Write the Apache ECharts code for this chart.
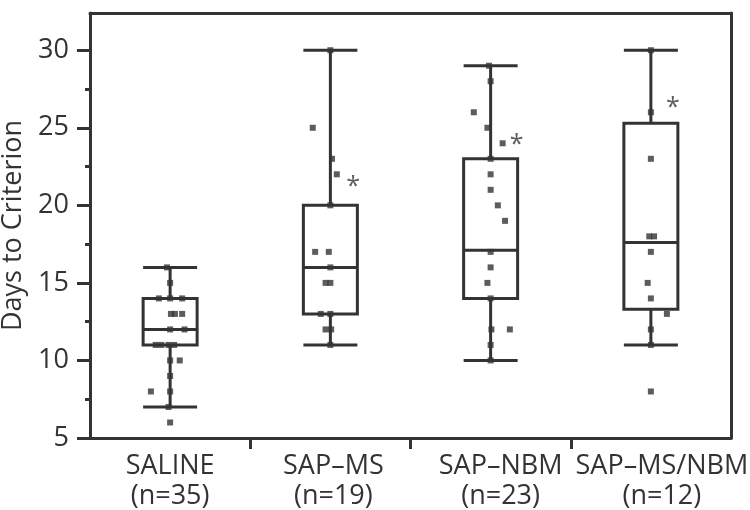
<!DOCTYPE html>
<html>
<head>
<meta charset="utf-8">
<script src="https://cdn.jsdelivr.net/npm/echarts@6/dist/echarts.min.js"></script>
<style>html,body{margin:0;padding:0;background:#fff}#c{width:750px;height:510px}</style>
</head>
<body>
<div id="c"></div>
<script>
var categories = ['SALINE\n(n=35)', 'SAP\u2013MS\n(n=19)', 'SAP\u2013NBM\n(n=23)', 'SAP\u2013MS/NBM\n(n=12)'];
var yTicks = [5, 10, 15, 20, 25, 30];
var yMinorTicks = [7.5, 12.5, 17.5, 22.5, 27.5];
// [min, Q1, median, Q3, max]
var boxSaline = [7, 11, 12, 14, 16];
var boxMS = [11, 13, 16, 20, 30];
var boxNBM = [10, 14, 17.1, 23, 29];
var boxBoth = [11, 13.3, 17.6, 25.3, 30];
// individual points: values and horizontal jitter (fraction of category band)
var ptsSaline = [16, 15, 14, 14, 14, 13, 13, 13, 12, 12, 11, 11, 11, 11, 10, 10, 9, 8, 8, 7, 6];
var jitSaline = [-0.02, 0, -0.07, 0, 0.075, 0.005, 0.03, 0.075, 0, 0.09, -0.09, -0.055, -0.01, 0.025, 0, 0.06, 0, -0.12, 0, -0.01, 0];
var ptsMS = [30, 25, 23, 22, 20, 17, 17, 16, 15, 15, 13, 13, 12, 12, 11];
var jitMS = [0, -0.11, 0.01, 0.04, 0, -0.095, -0.01, 0, -0.03, 0, -0.06, 0, -0.03, 0.005, 0];
var ptsNBM = [29, 28, 26, 25, 24, 23, 22, 21, 20, 19, 17, 16, 15, 14, 12, 12, 11, 10];
var jitNBM = [-0.01, 0, -0.105, -0.02, 0.075, 0, 0, 0, 0.045, 0.09, 0, 0, -0.02, 0, 0.005, 0.12, 0, 0];
var ptsBoth = [30, 26, 23, 18, 18, 17, 15, 14, 13, 12, 11, 8];
var jitBoth = [0, 0, 0, -0.01, 0.02, 0, -0.02, 0, 0.1, 0, 0, 0];
// significance asterisks: group index, jitter, value
var starGroups = [1, 2, 3];
var starJitter = [0.155, 0.175, 0.15];
var starValues = [21.6, 24.3, 26.7];

var INK = '#333333';
var FONT = 'Open Sans';
var labelShift = [0, 6, 20, 22];

var allPts = [ptsSaline, ptsMS, ptsNBM, ptsBoth];
var allJit = [jitSaline, jitMS, jitNBM, jitBoth];
var scatterData = [];
allPts.forEach(function (arr, g) {
  arr.forEach(function (v, k) { scatterData.push([g + 0.5 + allJit[g][k], v]); });
});
var starData = starGroups.map(function (g, k) { return [g + 0.5 + starJitter[k], starValues[k]]; });

var rich = {};
labelShift.forEach(function (s, i) {
  rich['c' + i] = {color: INK, fontFamily: FONT, fontSize: 27, lineHeight: 30, padding: [0, 0, 0, s]};
});

var chart = echarts.init(document.getElementById('c'), null, {renderer: 'canvas'});
chart.setOption({
  animation: false,
  backgroundColor: '#ffffff',
  grid: {left: 90, right: 19, top: 13, bottom: 72, containLabel: false, outerBoundsMode: 'none'},
  xAxis: [
    {
      type: 'category', position: 'bottom', data: categories,
      axisLine: {show: true, lineStyle: {color: INK, width: 3}},
      axisTick: {show: false},
      axisLabel: {
        interval: 0, margin: 13, rich: rich,
        formatter: function (v, i) {
          return v.split('\n').map(function (line) { return '{c' + i + '|' + line + '}'; }).join('\n');
        }
      }
    },
    {
      type: 'value', position: 'bottom', min: 0, max: 4, interval: 1,
      axisLine: {show: false},
      axisTick: {show: true, customValues: [1, 2, 3], length: 11, lineStyle: {color: INK, width: 3}},
      axisLabel: {show: false}, splitLine: {show: false}
    },
    {
      type: 'category', position: 'top', data: categories,
      axisLine: {show: true, lineStyle: {color: INK, width: 3}},
      axisTick: {show: false}, axisLabel: {show: false}
    }
  ],
  yAxis: [
    {
      type: 'value', position: 'left', min: 5, max: 32.4,
      name: 'Days to Criterion', nameLocation: 'middle', nameGap: 62, nameRotate: 90,
      nameTextStyle: {color: INK, fontFamily: FONT, fontSize: 27},
      axisLine: {show: true, lineStyle: {color: INK, width: 3}},
      axisTick: {show: true, customValues: yTicks, length: 13, lineStyle: {color: INK, width: 3}},
      axisLabel: {customValues: yTicks, color: INK, fontFamily: FONT, fontSize: 27, margin: 21},
      splitLine: {show: false}
    },
    {
      type: 'value', position: 'left', min: 5, max: 32.4,
      axisLine: {show: false},
      axisTick: {show: true, customValues: yMinorTicks, length: 5, lineStyle: {color: INK, width: 3}},
      axisLabel: {show: false}, splitLine: {show: false}
    },
    {
      type: 'value', position: 'right', min: 5, max: 32.4,
      axisLine: {show: true, lineStyle: {color: INK, width: 3}},
      axisTick: {show: false}, axisLabel: {show: false}, splitLine: {show: false}
    }
  ],
  series: [
    {
      type: 'boxplot', xAxisIndex: 0, yAxisIndex: 0,
      boxWidth: [54, 54],
      itemStyle: {color: 'transparent', borderColor: INK, borderWidth: 3},
      data: [boxSaline, boxMS, boxNBM, boxBoth]
    },
    {
      type: 'scatter', xAxisIndex: 1, yAxisIndex: 0,
      symbol: 'rect', symbolSize: 6,
      itemStyle: {color: INK},
      data: scatterData
    },
    {
      type: 'scatter', xAxisIndex: 1, yAxisIndex: 0,
      symbolSize: 1, itemStyle: {color: 'transparent'},
      label: {show: true, position: 'inside', formatter: '*', color: INK, fontFamily: FONT, fontSize: 25, offset: [-2, 6]},
      data: starData
    }
  ]
});
</script>
</body>
</html>
